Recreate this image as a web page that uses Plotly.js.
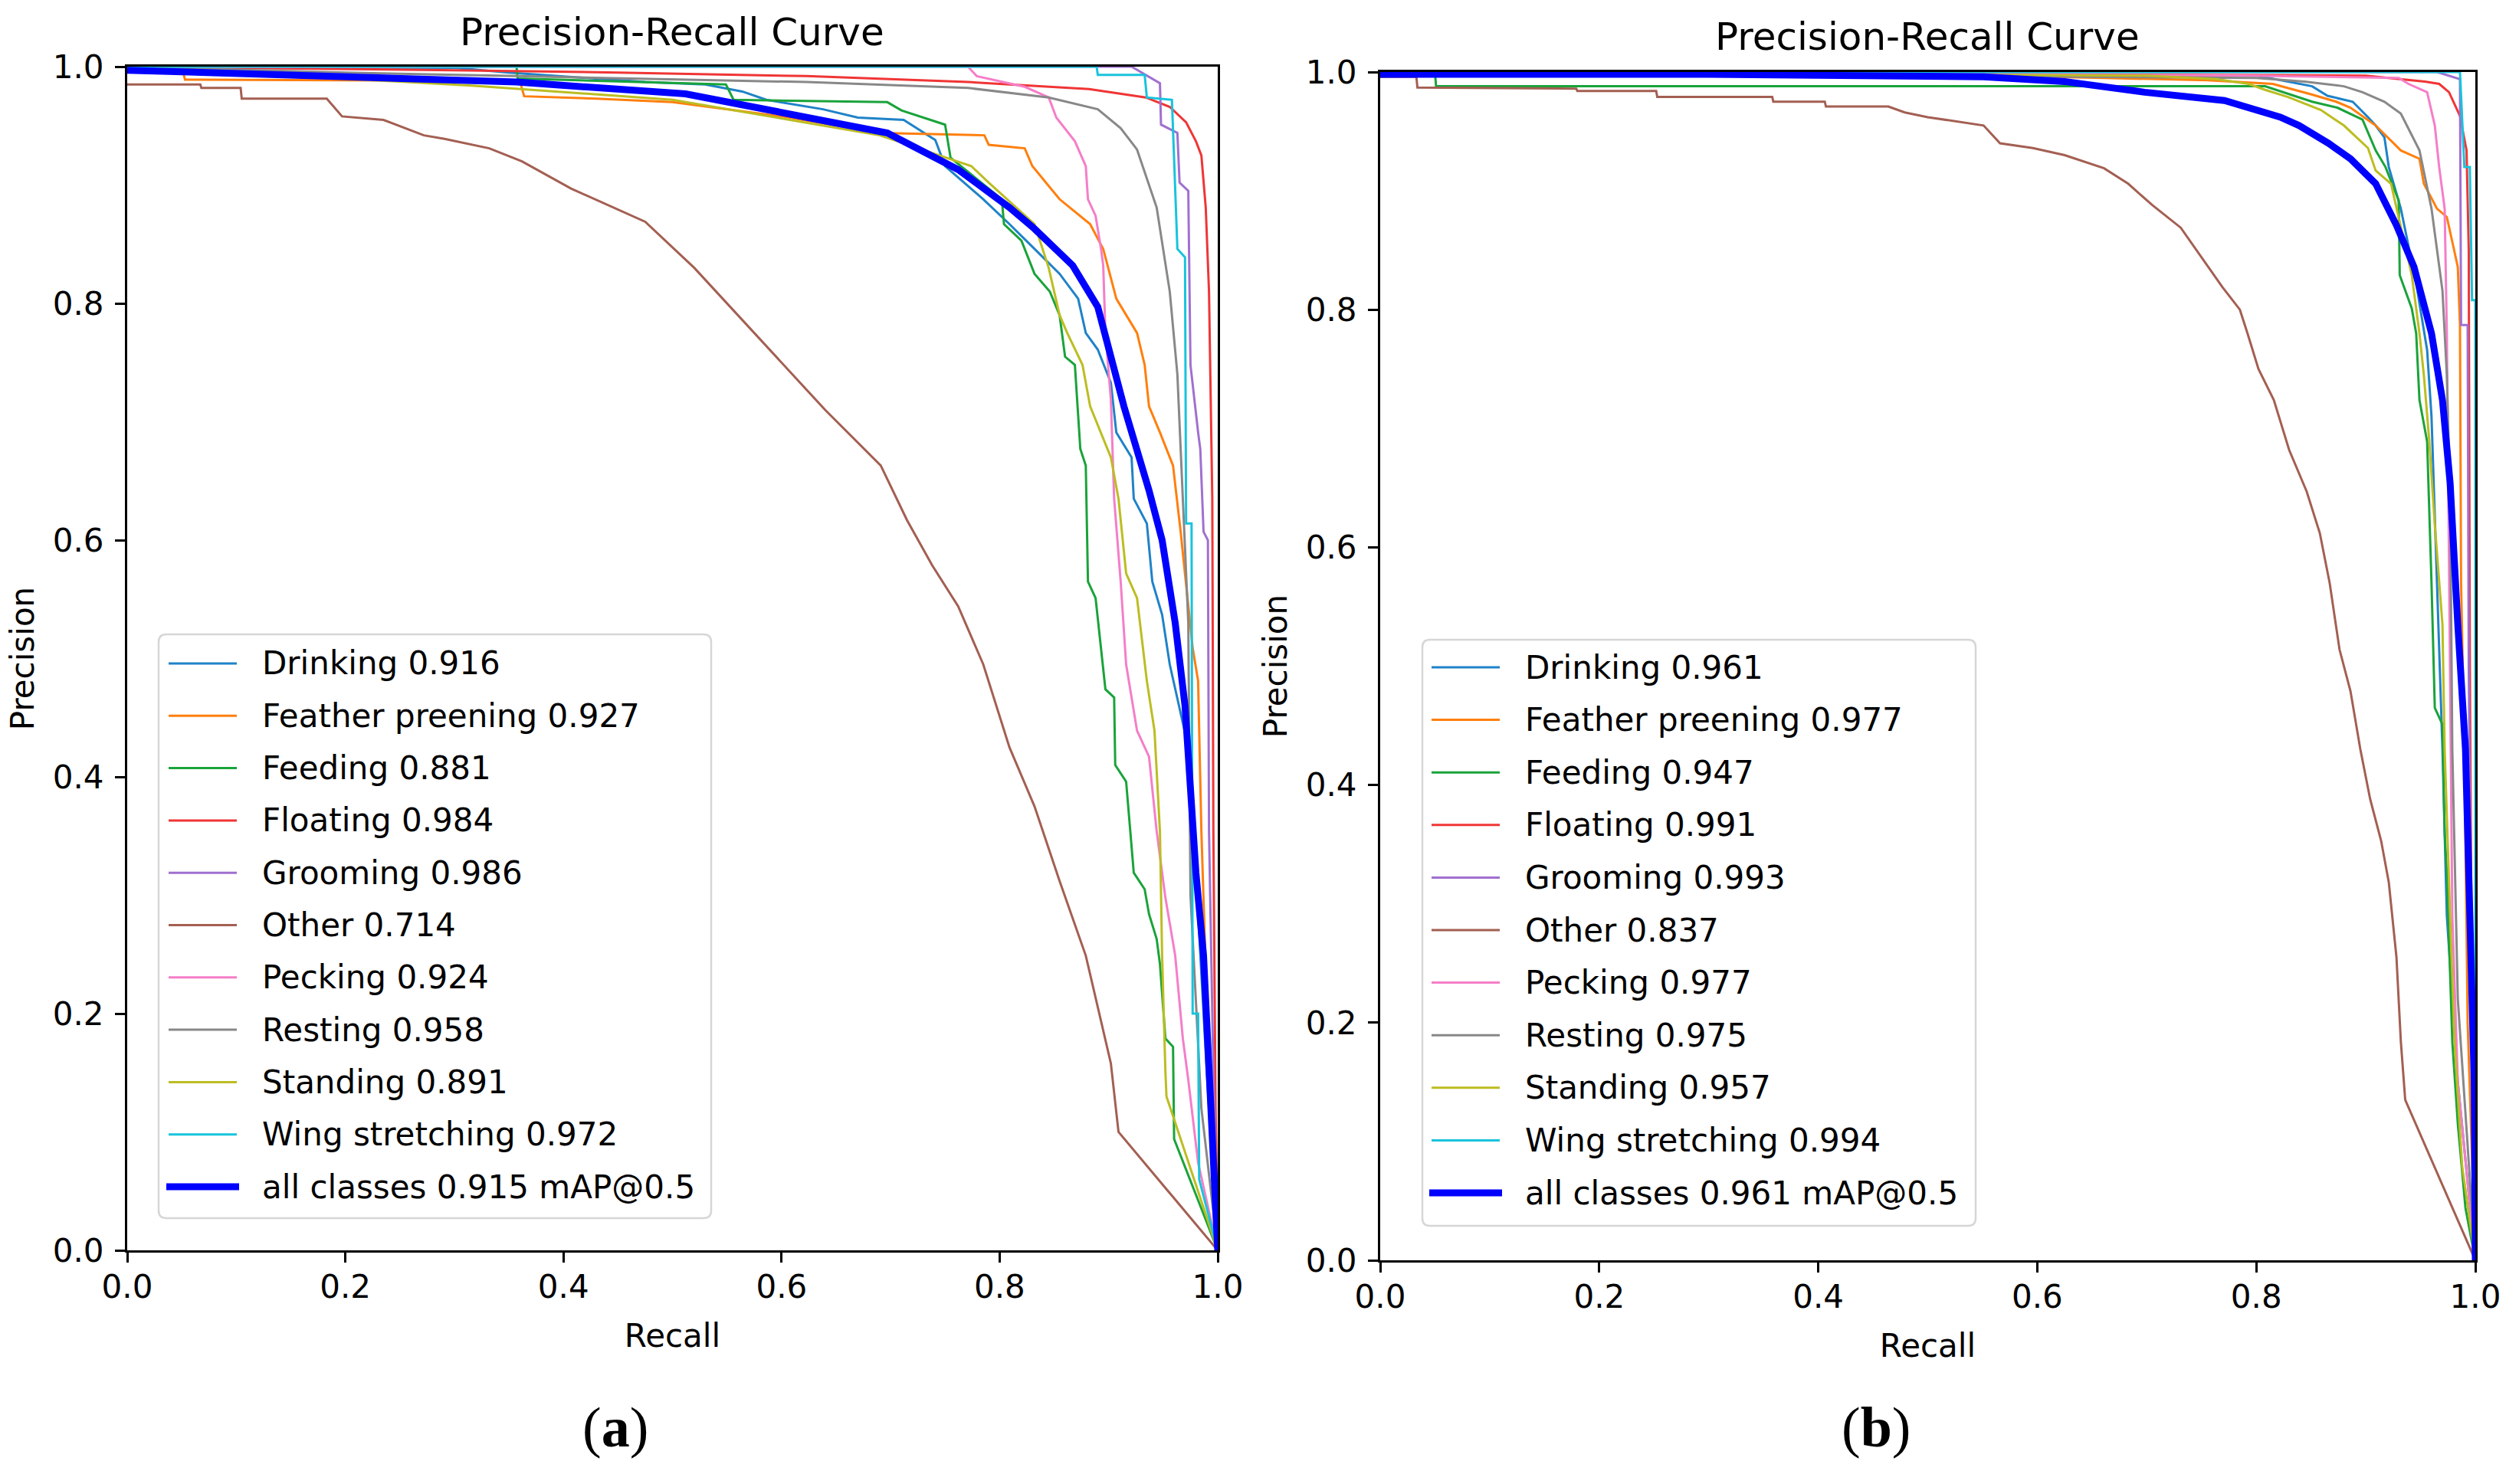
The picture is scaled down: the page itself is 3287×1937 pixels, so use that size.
<!DOCTYPE html>
<html><head><meta charset="utf-8">
<script src="https://cdn.plot.ly/plotly-3.0.1.min.js"></script>
<style>html,body{margin:0;padding:0;background:#fff;}#chart{width:3287px;height:1937px;}</style>
</head><body><div id="chart"></div>
<script>
const W = 3287, H = 1937;

// ---------- data ----------
const classNames = ['Drinking','Feather preening','Feeding','Floating','Grooming','Other','Pecking','Resting','Standing','Wing stretching'];
const apA = [0.916, 0.927, 0.881, 0.984, 0.986, 0.714, 0.924, 0.958, 0.891, 0.972];
const apB = [0.961, 0.977, 0.947, 0.991, 0.993, 0.837, 0.977, 0.975, 0.957, 0.994];
const mapA = 0.915, mapB = 0.961;
const tickVals = [0, 0.2, 0.4, 0.6, 0.8, 1.0];
const tickText = ['0.0', '0.2', '0.4', '0.6', '0.8', '1.0'];

// (a)
const aDrinkingR = [0,0.30,0.35,0.475,0.53,0.564,0.586,0.638,0.67,0.712,0.741,0.75,0.785,0.809,0.832,0.855,0.872,0.879,0.89,0.902,0.907,0.921,0.923,0.935,0.94,0.949,0.956,0.963,0.973,0.982,0.99,1.0];
const aDrinkingP = [1.0,0.999,0.995,0.987,0.985,0.979,0.972,0.964,0.957,0.955,0.938,0.916,0.888,0.867,0.846,0.825,0.804,0.775,0.761,0.733,0.691,0.670,0.635,0.614,0.565,0.537,0.495,0.467,0.425,0.284,0.15,0.0];
const aFeatherR = [0,0.05,0.053,0.36,0.364,0.43,0.50,0.60,0.69,0.786,0.79,0.823,0.83,0.855,0.883,0.895,0.907,0.926,0.933,0.937,0.947,0.959,0.966,0.970,0.977,0.982,0.985,0.992,1.0];
const aFeatherP = [1.0,1.0,0.989,0.988,0.975,0.973,0.970,0.958,0.944,0.942,0.934,0.931,0.916,0.888,0.867,0.846,0.804,0.775,0.748,0.713,0.691,0.663,0.607,0.572,0.509,0.481,0.354,0.15,0.0];
const aFeedingR = [0,0.357,0.358,0.549,0.556,0.697,0.71,0.75,0.755,0.79,0.802,0.804,0.82,0.832,0.846,0.855,0.86,0.869,0.874,0.879,0.881,0.888,0.893,0.897,0.905,0.906,0.916,0.92,0.923,0.933,0.937,0.944,0.947,0.952,0.959,0.96,1.0];
const aFeedingP = [1.0,1.0,0.99,0.985,0.972,0.970,0.963,0.951,0.923,0.897,0.888,0.867,0.853,0.825,0.81,0.79,0.755,0.748,0.677,0.663,0.565,0.551,0.509,0.474,0.467,0.41,0.396,0.354,0.319,0.305,0.284,0.263,0.242,0.179,0.172,0.094,0.0];
const aFloatingR = [0,0.30,0.45,0.623,0.771,0.882,0.934,0.956,0.971,0.98,0.985,0.989,0.992,0.995,0.996,0.998,1.0];
const aFloatingP = [1.0,0.997,0.995,0.992,0.987,0.981,0.974,0.966,0.953,0.937,0.925,0.881,0.81,0.635,0.354,0.12,0.0];
const aGroomingR = [0,0.921,0.947,0.948,0.963,0.965,0.973,0.975,0.982,0.984,0.987,0.991,0.992,0.996,1.0];
const aGroomingP = [1.0,1.0,0.986,0.951,0.944,0.902,0.895,0.748,0.691,0.677,0.607,0.600,0.354,0.15,0.0];
const aOtherR = [0,0.067,0.068,0.104,0.105,0.183,0.197,0.235,0.272,0.291,0.332,0.362,0.407,0.444,0.475,0.52,0.58,0.64,0.691,0.715,0.738,0.762,0.785,0.809,0.832,0.855,0.879,0.902,0.909,1.0];
const aOtherP = [0.985,0.985,0.982,0.982,0.973,0.973,0.958,0.955,0.942,0.939,0.931,0.92,0.897,0.882,0.869,0.83,0.77,0.71,0.663,0.617,0.579,0.544,0.495,0.425,0.375,0.312,0.249,0.158,0.10,0.0];
const aPeckingR = [0,0.771,0.779,0.823,0.845,0.852,0.869,0.879,0.881,0.888,0.893,0.895,0.897,0.902,0.905,0.911,0.916,0.926,0.937,0.94,0.944,0.952,0.961,0.968,0.973,0.982,1.0];
const aPeckingP = [1.0,1.0,0.992,0.983,0.974,0.957,0.937,0.916,0.888,0.874,0.846,0.832,0.775,0.719,0.635,0.565,0.495,0.439,0.417,0.39,0.354,0.298,0.249,0.179,0.144,0.074,0.0];
const aRestingR = [0,0.20,0.357,0.623,0.771,0.845,0.89,0.911,0.926,0.944,0.956,0.963,0.968,0.973,0.975,0.985,1.0];
const aRestingP = [1.0,0.995,0.992,0.987,0.982,0.974,0.964,0.948,0.930,0.881,0.81,0.74,0.635,0.53,0.30,0.12,0.0];
const aStandingR = [0,0.10,0.316,0.50,0.69,0.774,0.79,0.832,0.845,0.855,0.862,0.876,0.883,0.902,0.909,0.916,0.926,0.935,0.942,0.947,0.949,0.952,0.953,1.0];
const aStandingP = [1.0,0.995,0.984,0.972,0.942,0.916,0.902,0.867,0.83,0.79,0.775,0.748,0.713,0.67,0.635,0.572,0.551,0.481,0.439,0.354,0.249,0.151,0.13,0.0];
const aWingR = [0,0.889,0.89,0.933,0.935,0.958,0.963,0.970,0.971,0.976,0.977,0.982,0.983,1.0];
const aWingP = [1.0,1.0,0.993,0.993,0.974,0.972,0.846,0.839,0.614,0.614,0.2,0.2,0.06,0.0];
const aAllR = [0,0.357,0.512,0.623,0.697,0.762,0.809,0.832,0.867,0.89,0.902,0.914,0.937,0.949,0.961,0.97,0.975,0.98,0.987,0.991,0.996,1.0];
const aAllP = [0.997,0.987,0.977,0.957,0.944,0.913,0.881,0.863,0.832,0.797,0.755,0.713,0.642,0.600,0.530,0.460,0.390,0.319,0.249,0.179,0.074,0.0];

// (b)
const bDrinkingR = [0,0.80,0.829,0.851,0.865,0.888,0.902,0.909,0.917,0.921,0.932,0.946,0.956,0.96,0.965,0.97,0.974,0.984,1.0];
const bDrinkingP = [1.0,0.997,0.992,0.988,0.98,0.975,0.962,0.955,0.945,0.92,0.885,0.822,0.766,0.71,0.57,0.43,0.29,0.15,0.0];
const bFeatherR = [0,0.559,0.661,0.756,0.815,0.851,0.873,0.886,0.909,0.932,0.949,0.953,0.965,0.974,0.979,0.984,0.986,0.987,0.99,0.993,1.0];
const bFeatherP = [1.0,0.997,0.995,0.993,0.99,0.981,0.975,0.97,0.955,0.934,0.927,0.906,0.885,0.878,0.857,0.836,0.787,0.57,0.43,0.2,0.0];
const bFeedingR = [0,0.050,0.051,0.808,0.851,0.874,0.897,0.909,0.918,0.93,0.931,0.942,0.946,0.949,0.956,0.958,0.96,0.963,0.97,0.972,0.974,0.979,0.984,0.991,1.0];
const bFeedingP = [1.0,1.0,0.988,0.988,0.975,0.970,0.960,0.934,0.92,0.892,0.829,0.801,0.78,0.724,0.689,0.633,0.57,0.465,0.451,0.36,0.325,0.184,0.115,0.044,0.0];
const bFloatingR = [0,0.90,0.931,0.954,0.967,0.976,0.986,0.992,0.994,0.995,0.997,1.0];
const bFloatingP = [1.0,0.997,0.994,0.992,0.99,0.983,0.963,0.934,0.85,0.5,0.2,0.0];
const bGroomingR = [0,0.965,0.986,0.987,0.993,0.994,0.997,1.0];
const bGroomingP = [1.0,1.0,0.994,0.787,0.787,0.5,0.2,0.0];
const bOtherR = [0,0.033,0.034,0.179,0.18,0.252,0.253,0.358,0.359,0.406,0.407,0.464,0.479,0.50,0.551,0.566,0.596,0.625,0.661,0.683,0.705,0.731,0.769,0.785,0.792,0.802,0.816,0.83,0.846,0.858,0.867,0.876,0.886,0.895,0.904,0.914,0.921,0.928,0.932,0.936,1.0];
const bOtherP = [0.996,0.996,0.987,0.986,0.984,0.984,0.979,0.979,0.975,0.975,0.971,0.971,0.966,0.962,0.955,0.94,0.936,0.93,0.919,0.906,0.888,0.869,0.819,0.8,0.78,0.75,0.724,0.682,0.647,0.612,0.57,0.514,0.479,0.43,0.388,0.353,0.318,0.255,0.184,0.135,0.0];
const bPeckingR = [0,0.79,0.93,0.939,0.956,0.963,0.967,0.972,0.974,0.977,0.979,0.984,1.0];
const bPeckingP = [1.0,0.997,0.995,0.99,0.983,0.955,0.92,0.885,0.78,0.5,0.29,0.15,0.0];
const bRestingR = [0,0.80,0.844,0.88,0.897,0.917,0.932,0.949,0.96,0.97,0.974,0.977,0.979,0.984,1.0];
const bRestingP = [1.0,0.995,0.992,0.988,0.983,0.975,0.965,0.934,0.885,0.816,0.745,0.64,0.43,0.22,0.0];
const bStandingR = [0,0.70,0.763,0.793,0.808,0.829,0.859,0.88,0.902,0.909,0.923,0.942,0.949,0.953,0.958,0.963,0.97,0.972,0.977,0.981,0.988,1.0];
const bStandingP = [1.0,0.997,0.994,0.99,0.985,0.979,0.968,0.955,0.936,0.917,0.906,0.829,0.78,0.745,0.689,0.619,0.535,0.43,0.29,0.184,0.079,0.0];
const bWingR = [0,0.986,0.99,0.995,0.997,1.0,1.0];
const bWingP = [1.0,1.0,0.92,0.92,0.808,0.808,0.0];
const bAllR = [0,0.30,0.551,0.625,0.698,0.771,0.822,0.839,0.866,0.886,0.909,0.928,0.944,0.96,0.97,0.977,0.984,0.991,0.995,0.999,1.0];
const bAllP = [0.998,0.998,0.996,0.992,0.983,0.976,0.962,0.955,0.94,0.927,0.906,0.871,0.836,0.78,0.724,0.654,0.535,0.43,0.29,0.15,0.0];

// ---------- styling ----------
const classColors = ['#1f82c8','#ff7f0e','#1aa33a','#f03535','#a070d0','#a35f52','#f57ec8','#888888','#bcbd22','#17c4dc'];
const allColor = '#0000ff';
const FONT = 'DejaVu Sans, sans-serif';

const seriesA = [[aDrinkingR,aDrinkingP],[aFeatherR,aFeatherP],[aFeedingR,aFeedingP],[aFloatingR,aFloatingP],[aGroomingR,aGroomingP],[aOtherR,aOtherP],[aPeckingR,aPeckingP],[aRestingR,aRestingP],[aStandingR,aStandingP],[aWingR,aWingP]];
const seriesB = [[bDrinkingR,bDrinkingP],[bFeatherR,bFeatherP],[bFeedingR,bFeedingP],[bFloatingR,bFloatingP],[bGroomingR,bGroomingP],[bOtherR,bOtherP],[bPeckingR,bPeckingP],[bRestingR,bRestingP],[bStandingR,bStandingP],[bWingR,bWingP]];

const traces = [];
function addSeries(series, allR, allP, aps, mapVal, xa, ya) {
  series.forEach((s, i) => {
    traces.push({x: s[0], y: s[1], xaxis: xa, yaxis: ya, type: 'scatter', mode: 'lines',
      name: classNames[i] + ' ' + aps[i].toFixed(3), line: {color: classColors[i], width: 3},
      showlegend: false, hoverinfo: 'skip'});
  });
  traces.push({x: allR, y: allP, xaxis: xa, yaxis: ya, type: 'scatter', mode: 'lines',
    name: 'all classes ' + mapVal.toFixed(3) + ' mAP@0.5', line: {color: allColor, width: 9},
    showlegend: false, hoverinfo: 'skip'});
}
addSeries(seriesA, aAllR, aAllP, apA, mapA, 'x', 'y');
addSeries(seriesB, bAllR, bAllP, apB, mapB, 'x2', 'y2');

const px = v => v / W;
const py = v => 1 - v / H;

function axisX(d0, d1, anchor, standoff) {
  return {domain: [px(d0), px(d1)], range: [0, 1], anchor: anchor, fixedrange: true,
    showline: true, mirror: true, linecolor: '#000', linewidth: 3,
    showgrid: false, zeroline: false, ticks: 'outside', ticklen: 13, tickwidth: 3, tickcolor: '#000',
    tickvals: tickVals, ticktext: tickText, ticklabelstandoff: -4,
    tickfont: {family: FONT, size: 42, color: '#000'},
    title: {text: 'Recall', font: {family: FONT, size: 42, color: '#000'}, standoff: standoff}};
}
function axisY(top, bottom, anchor, standoff) {
  return {domain: [py(bottom), py(top)], range: [0, 1], anchor: anchor, fixedrange: true,
    showline: true, mirror: true, linecolor: '#000', linewidth: 3,
    showgrid: false, zeroline: false, ticks: 'outside', ticklen: 13, tickwidth: 3, tickcolor: '#000',
    tickvals: tickVals, ticktext: tickText, ticklabelstandoff: 6,
    tickfont: {family: FONT, size: 42, color: '#000'},
    title: {text: 'Precision', font: {family: FONT, size: 42, color: '#000'}, standoff: standoff}};
}

const shapes = [];
const annotations = [];

function buildLegend(box, aps, mapVal, lineX0, lineX1, textX, row0, rowStep) {
  const x0 = px(box[0]), x1 = px(box[1]), yT = py(box[2]), yB = py(box[3]);
  const rx = 10 / W, ry = 10 / H;
  shapes.push({type: 'path', xref: 'paper', yref: 'paper', layer: 'above',
    path: `M ${x0+rx},${yT} L ${x1-rx},${yT} Q ${x1},${yT} ${x1},${yT-ry} L ${x1},${yB+ry} Q ${x1},${yB} ${x1-rx},${yB} L ${x0+rx},${yB} Q ${x0},${yB} ${x0},${yB+ry} L ${x0},${yT-ry} Q ${x0},${yT} ${x0+rx},${yT} Z`,
    line: {color: '#d6d6d6', width: 2.5}, fillcolor: 'rgba(255,255,255,0.85)'});
  const labels = classNames.map((n, i) => n + ' ' + aps[i].toFixed(3));
  labels.push('all classes ' + mapVal.toFixed(3) + ' mAP@0.5');
  labels.forEach((lab, i) => {
    const yc = row0 + i * rowStep;
    const isAll = i === classNames.length;
    shapes.push({type: 'line', xref: 'paper', yref: 'paper', layer: 'above',
      x0: px(isAll ? lineX0 - 3 : lineX0), x1: px(isAll ? lineX1 + 3 : lineX1), y0: py(yc), y1: py(yc),
      line: {color: isAll ? allColor : classColors[i], width: isAll ? 9 : 3}});
    annotations.push({xref: 'paper', yref: 'paper', x: px(textX), y: py(yc), xanchor: 'left', yanchor: 'middle',
      text: lab, showarrow: false, font: {family: FONT, size: 42, color: '#000'}});
  });
}
buildLegend([207, 928, 828, 1590], apA, mapA, 220, 309, 340, 866, 68.3);
buildLegend([1856, 2578, 835, 1600], apB, mapB, 1868, 1957, 1988, 871, 68.6);

// subplot titles
annotations.push({xref: 'paper', yref: 'paper', x: px(877), y: py(42), xanchor: 'center', yanchor: 'middle',
  text: 'Precision-Recall Curve', showarrow: false, font: {family: FONT, size: 50, color: '#000'}});
annotations.push({xref: 'paper', yref: 'paper', x: px(2515), y: py(48), xanchor: 'center', yanchor: 'middle',
  text: 'Precision-Recall Curve', showarrow: false, font: {family: FONT, size: 50, color: '#000'}});
// panel labels
annotations.push({xref: 'paper', yref: 'paper', x: px(803), y: py(1863), xanchor: 'center', yanchor: 'middle',
  text: '(<b>a</b>)', showarrow: false, font: {family: 'Liberation Serif, serif', size: 74, color: '#000'}});
annotations.push({xref: 'paper', yref: 'paper', x: px(2448), y: py(1863), xanchor: 'center', yanchor: 'middle',
  text: '(<b>b</b>)', showarrow: false, font: {family: 'Liberation Serif, serif', size: 74, color: '#000'}});

const layout = {
  width: W, height: H, autosize: false,
  margin: {l: 0, r: 0, t: 0, b: 0, pad: 0},
  paper_bgcolor: '#ffffff', plot_bgcolor: '#ffffff',
  showlegend: false,
  font: {family: FONT, color: '#000'},
  xaxis: axisX(166, 1589, 'y', 26),
  yaxis: axisY(87, 1632, 'x', 12),
  xaxis2: axisX(1801, 3230, 'y2', 26),
  yaxis2: axisY(94, 1645, 'x2', 12),
  shapes: shapes,
  annotations: annotations
};

Plotly.newPlot('chart', traces, layout, {staticPlot: true, displayModeBar: false});
</script>
</body></html>
